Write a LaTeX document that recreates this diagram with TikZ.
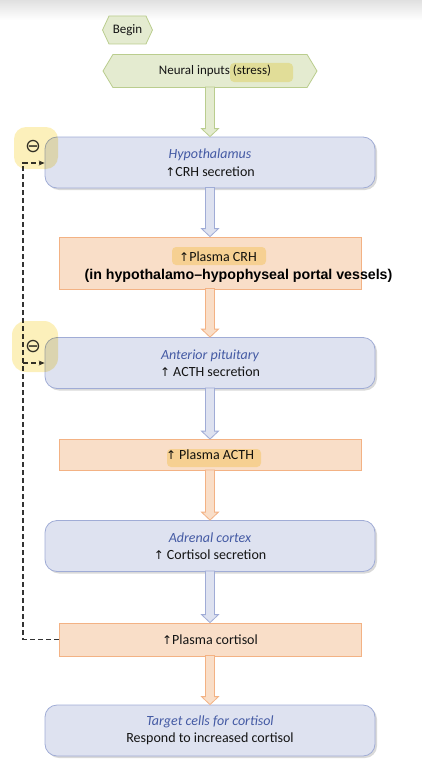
\documentclass[tikz,border=0pt]{standalone}
\usepackage{fontspec}
\setmainfont{Carlito}
\newfontfamily\symfont{DejaVu Sans}
\newfontfamily\arialfont{Liberation Sans}
\usetikzlibrary{calc,shapes.symbols,shadows,arrows.meta}

\def\up{{\symfont\fontsize{12}{17}\selectfont\char"2191}}
\definecolor{hexfill}{RGB}{228,235,208}
\definecolor{hexedge}{RGB}{186,205,142}
\definecolor{bluefill}{RGB}{222,226,240}
\definecolor{blueedge}{RGB}{160,172,214}
\definecolor{orangefill}{RGB}{249,222,200}
\definecolor{orangeedge}{RGB}{243,178,132}
\definecolor{titleblue}{RGB}{68,90,164}
\definecolor{marker}{RGB}{250,226,120}
\colorlet{body text}{black!92}
\tikzset{
  hexbox/.style={signal, signal to=west and east, fill=hexfill, draw=hexedge, thick,
    inner sep=0pt, text=body text},
  organ/.style={rectangle, rounded corners=12pt, fill=bluefill, draw=blueedge, thick,
    minimum width=330pt, minimum height=51pt, inner sep=0pt, align=center, text=body text,
    drop shadow={shadow xshift=2pt, shadow yshift=-2pt, opacity=0.25, fill=black!60}},
  plasma/.style={rectangle, fill=orangefill, draw=orangeedge, thick,
    minimum width=302pt, inner sep=0pt, text=body text}
  }
\tikzstyle{greenarrow}=[fill=hexfill, draw=hexedge, thick]
\tikzstyle{bluearrow}=[fill=bluefill, draw=blueedge, thick]
\tikzstyle{orangearrow}=[fill=orangefill, draw=orangeedge, thick]
\tikzstyle{feedback}=[draw=black!80, line width=1.3pt, dash pattern=on 5pt off 3pt]
\tikzstyle{minus}=[inner sep=0pt, text=black!80, font=\symfont\fontsize{19}{19}\selectfont]
\tikzstyle{highlight}=[fill=marker, opacity=0.5, blend mode=multiply]

% block arrow from the bottom of one node to the top of the next
\newcommand{\blockarrow}[3]{%
  \path let \p1=(#1.south), \p2=(#2.north) in
    [#3] (\x1-4.5pt,\y1+1pt) -- (\x1-4.5pt,\y2+8pt) -- (\x1-8.5pt,\y2+8pt) -- (\x1,\y2)
    -- (\x1+8.5pt,\y2+8pt) -- (\x1+4.5pt,\y2+8pt) -- (\x1+4.5pt,\y1+1pt) -- cycle;}

\begin{document}
\begin{tikzpicture}[x=1pt, y=-1pt, font=\fontsize{14}{17.5}\selectfont]
   \useasboundingbox (0,0) rectangle (422,784);
   \shade[top color=black!12, bottom color=white] (0,0) rectangle (422,20);

   \node[hexbox, signal pointer angle=130, minimum width=50pt, minimum height=28pt,
     font=\fontsize{13}{15}\selectfont] (begin) at (127.5,30) {Begin};
   \node[hexbox, signal pointer angle=118, minimum width=214pt, minimum height=33pt,
     font=\fontsize{13}{15}\selectfont] (neural) at (210,71) {\hspace{10pt}Neural inputs (stress)};

   \node[organ] (hypo) at (210,162.5)
     {\textcolor{titleblue}{\itshape Hypothalamus}\\\up CRH secretion};
   \node[plasma, minimum height=52pt] (crh) at (210,263) {};
   \node[text=body text] (crhtext) at (218,257) {\up Plasma CRH};
   \node[text=black, font=\arialfont\bfseries\fontsize{14.2}{16}\selectfont] (crhnote) at (238.5,276)
     {(in hypothalamo–hypophyseal portal vessels)};
   \node[organ] (pit) at (210,363)
     {\textcolor{titleblue}{\itshape Anterior pituitary}\\\up\ ACTH secretion};
   \node[plasma, minimum height=31pt] (acth) at (210,455) {\up\ Plasma ACTH};
   \node[organ] (adrenal) at (210,546)
     {\textcolor{titleblue}{\itshape Adrenal cortex}\\\up\ Cortisol secretion};
   \node[plasma, minimum height=33pt] (cortisol) at (210,639.5) {\up Plasma cortisol};
   \node[organ] (target) at (210,730.5)
     {\textcolor{titleblue}{\itshape Target cells for cortisol}\\Respond to increased cortisol};

   \blockarrow{neural}{hypo}{greenarrow}
   \blockarrow{hypo}{crh}{bluearrow}
   \blockarrow{crh}{pit}{orangearrow}
   \blockarrow{pit}{acth}{bluearrow}
   \blockarrow{acth}{adrenal}{orangearrow}
   \blockarrow{adrenal}{cortisol}{bluearrow}
   \blockarrow{cortisol}{target}{orangearrow}

   % negative feedback of cortisol
   \coordinate (fbhypo) at (23,163);
   \coordinate (fbpit) at (23,363);
   \draw[feedback, -{Stealth[length=6pt,width=5pt]}] (cortisol.west) -| (fbhypo) -- (fbhypo -| hypo.west);
   \draw[feedback, -{Stealth[length=6pt,width=5pt]}] (fbpit) -- (fbpit -| pit.west);
   \node[minus] (minushypo) at (33,147) {⊖};
   \node[minus] (minuspit) at (33,347) {⊖};

   \fill[highlight, rounded corners=12pt] (14,127) rectangle (58,169);
   \fill[highlight, rounded corners=14pt] (12,321) rectangle (58,372);
   \fill[highlight, rounded corners=4pt] (230,63) rectangle (293,82);
   \fill[highlight, rounded corners=4pt] (172,247) rectangle (266,265);
   \fill[highlight, rounded corners=4pt] (167,449) rectangle (261,467);
\end{tikzpicture}
\end{document}
